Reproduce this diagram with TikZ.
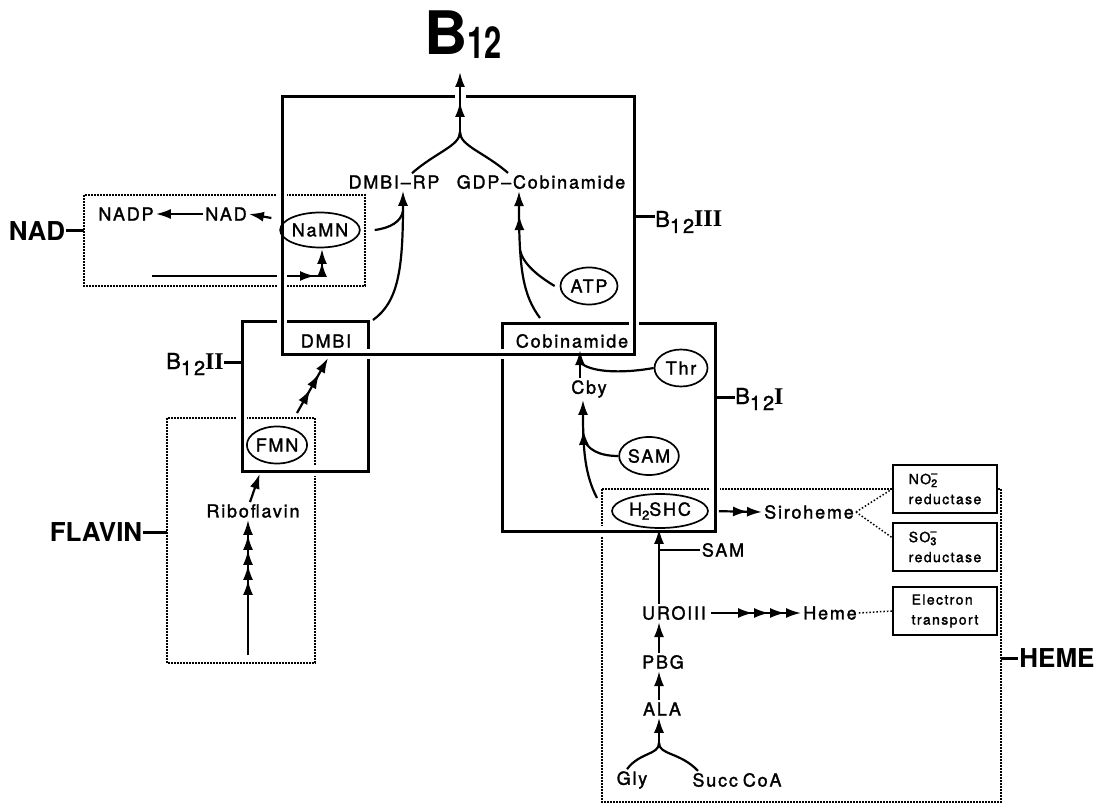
\documentclass[tikz,border=0pt]{standalone}
\usepackage{fontspec}
\usepackage{graphicx}
\setmainfont{TeX Gyre Heros}
\newfontfamily\labfont{TeX Gyre Heros}[LetterSpace=10, FakeBold=1.6]
\newfontfamily\numfont{Liberation Serif}
\usetikzlibrary{shapes.geometric,arrows.meta,decorations.markings}
\tikzset{
  % thick outline of a B12 part, with a white halo so that it cuts the lines it crosses
  part/.style={draw, line width=3pt, preaction={draw=white, line width=10pt}},
  % dotted outline of a side pathway
  sidebox/.style={line width=2.2pt, dash pattern=on 1.8pt off 1.2pt},
  tickline/.style={line width=3pt},
  flowline/.style={line width=2.2pt},
  arr/.style={flowline, -{Latex[length=15pt,width=10pt]}},
  % one more arrowhead on the path, #1 back from its end
  hd at/.style={postaction={decorate, decoration={markings,
      mark=at position #1 with {\arrow{Latex[length=15pt,width=10pt]}}}}},
  dots/.style={line width=1.5pt, dash pattern=on 1.5pt off 2pt},
  mol/.style={font=\labfont\fontsize{18}{20}\selectfont, inner sep=2pt},
  enz/.style={mol, ellipse, draw, line width=1.7pt, inner sep=0pt},
  route/.style={font=\bfseries\fontsize{26}{28}\selectfont, inner sep=1pt},
  bname/.style={font=\fontsize{22}{22}\selectfont, inner sep=0pt},
  title/.style={font=\bfseries\fontsize{60}{60}\selectfont, inner sep=0pt},
  role/.style={draw, line width=1.7pt, fill=white, font=\labfont\fontsize{14}{20}\selectfont,
    align=left, minimum width=104pt, minimum height=48pt},
}
\newcommand{\bpart}[1]{{\addfontfeatures{FakeBold=1.5}B}\raisebox{-6pt}{\labfont\fontsize{20}{20}\selectfont 12}{\numfont\bfseries\fontsize{24}{24}\selectfont #1}}
\newcommand{\ion}[1]{\rlap{\raisebox{7pt}{\fontsize{11}{11}\selectfont –}}\raisebox{-3pt}{\fontsize{11}{11}\selectfont #1}}

\begin{document}
\begin{tikzpicture}[x=1pt, y=-1pt]
  \useasboundingbox (0,0) rectangle (1096,805);

  % side pathways
  \draw[sidebox] (84,195) rectangle (365,286);
  \draw[sidebox] (167,418) rectangle (315,663);
  \draw[sidebox] (602,489) rectangle (1001,802);

  \coordinate (nain) at (152,276);
  \coordinate (nacorner) at (322,276);
  \coordinate (naend) at (322,249);
  \draw[arr, hd at=-13pt, hd at=-34pt] (nain) -- (nacorner) -- (naend);

  % the three parts
  \draw[part] (242,322) rectangle (368,471);
  \draw[part] (502,324) rectangle (715,531);
  \draw[part] (282,97) rectangle (634,354);

  \node[route] (nadlab) at (37,231) {NAD};
  \node[route] (flavlab) at (96,532) {FLAVIN};
  \node[route] (hemelab) at (1057,658) {HEME};
  \draw[tickline] (nadlab.east) -- (84,231);
  \draw[tickline] (flavlab.east) -- (167,532);
  \draw[tickline] (1001,658) -- (hemelab.west);

  \node[bname, anchor=base east] (btwo) at (224,369) {\bpart{II}};
  \node[bname, anchor=base west] (bthree) at (655,227) {\bpart{III}};
  \node[bname, anchor=base west] (bone) at (735,404) {\bpart{I}};
  \draw[tickline] (btwo.east |- 0,362) -- (242,362);
  \draw[tickline] (634,217) -- (bthree.west |- 0,217);
  \draw[tickline] (715,397) -- (bone.west |- 0,397);

  \node[title, anchor=base west] (b12) at (424,55) {B\raisebox{-4pt}{\scalebox{0.7}[1]{\fontsize{44}{44}\selectfont 12}}};

  \node[mol] (dmbirp) at (394,182) {DMBI–RP};
  \node[mol] (gdp) at (541,182) {GDP–Cobinamide};
  \node[mol] (nadp) at (126,214) {NADP};
  \node[mol] (nad) at (226,214) {NAD};
  \node[enz, minimum width=75pt, minimum height=35pt] (namn) at (320,230) {NaMN};
  \node[mol] (dmbi) at (326,341) {DMBI};
  \node[mol] (cobin) at (572,341) {Cobinamide};
  \node[enz, minimum width=57pt, minimum height=37pt] (atp) at (589,286) {ATP};
  \node[enz, minimum width=53pt, minimum height=37pt] (thr) at (681,368) {Thr};
  \node[mol] (cby) at (589,389) {Cby};
  \node[enz, minimum width=58pt, minimum height=38pt] (sam) at (649,456) {SAM};
  \node[enz, minimum width=60pt, minimum height=37pt] (fmn) at (277,445) {FMN};
  \node[mol] (ribo) at (253,511) {Riboflavin};
  \node[enz, minimum width=96pt, minimum height=34pt] (h2shc) at (660,511) {H\raisebox{-4pt}{\fontsize{13}{13}\selectfont 2}SHC};
  \node[mol] (siro) at (809,512) {Siroheme};
  \node[mol] (samb) at (723,550) {SAM};
  \node[mol] (uro) at (674,613) {UROIII};
  \node[mol] (heme) at (830,613) {Heme};
  \node[mol] (pbg) at (663,662) {PBG};
  \node[mol] (ala) at (662,709) {ALA};
  \node[mol] (gly) at (632,780) {Gly};
  \node[mol] (succ) at (737,780) {Succ\hspace{5pt}CoA};
  \node[role] (no2) at (945,489) {NO\ion{2}\\reductase};
  \node[role] (so3) at (945,547) {SO\ion{3}\\reductase};
  \node[role] (et) at (945,611) {Electron\\transport};

  % B12 from its two halves
  \coordinate (join) at (460,132);
  \coordinate (top) at (460,72);
  \draw[white, line width=11pt] (join) -- (top);
  \draw[arr, hd at=-30pt] (join) -- (top);
  \draw[flowline] ([xshift=18pt]dmbirp.north) .. controls (436,152) and (460,146) .. (join);
  \draw[flowline] ([xshift=-33pt]gdp.north) .. controls (484,152) and (460,146) .. (join);

  \coordinate (dmbiup) at (373,320);
  \draw[arr] (dmbiup) .. controls (398,302) and (403,270) .. ([xshift=9pt]dmbirp.south);
  \draw[flowline] ([xshift=14pt]namn.east) .. controls (390,228) and (401,222) .. (403,211);
  \coordinate (cobup) at (540,318);
  \draw[arr, hd at=-24pt] (cobup) .. controls (523,295) and (519,270) .. ([xshift=-22pt]gdp.south);
  \draw[flowline] ([xshift=-5pt]atp.west) .. controls (538,276) and (523,264) .. (520,250);

  \draw[arr] (nad.west) -- (nadp.east);
  \draw[arr] ([xshift=-8pt, yshift=12pt]namn.west) -- (nad.east);

  % flavin side
  \coordinate (fbase) at (248,655);
  \draw[arr, hd at=-15pt, hd at=-30pt, hd at=-45pt, hd at=-60pt] (fbase) -- ([xshift=-5pt]ribo.south);
  \draw[arr, shorten >=10pt] ([xshift=-3pt]ribo.north) -- ([xshift=-14pt]fmn.south);
  \coordinate (fmnup) at (297,413);
  \coordinate (dmbiin) at (328,358);
  \draw[arr, hd at=-18pt, hd at=-36pt] (fmnup) -- (dmbiin);

  % corrin side
  \draw[arr] ([xshift=-9pt]cby.north) -- ([xshift=8pt]cobin.south);
  \draw[flowline] (thr.west) .. controls (620,374) and (589,372) .. (580,362);
  \coordinate (h2up) at (597,498);
  \draw[arr, hd at=-30pt] (h2up) .. controls (585,475) and (583,450) .. ([xshift=-6pt]cby.south);
  \draw[flowline] (sam.west) .. controls (600,456) and (586,450) .. (583,436);

  % heme side
  \draw[arr] ([xshift=-15pt]uro.north) -- ([xshift=-1pt]h2shc.south);
  \coordinate (sambr) at (659,550);
  \draw[flowline] (sambr) -- (samb.west);
  \draw[arr, shorten <=10pt, hd at=-14pt] (h2shc.east) -- (siro.west);
  \draw[arr, shorten <=3pt, hd at=-16pt, hd at=-32pt, hd at=-48pt] (uro.east) -- (heme.west);
  \draw[arr] ([xshift=-4pt]pbg.north) -- ([xshift=-15pt]uro.south);
  \draw[arr] ([xshift=-3pt]ala.north) -- ([xshift=-4pt]pbg.south);
  \coordinate (glyjoin) at (659,743);
  \draw[flowline] ([xshift=-5pt]gly.north) .. controls (640,752) and (659,755) .. (glyjoin);
  \draw[flowline] ([xshift=-39pt]succ.north) .. controls (680,752) and (659,755) .. (glyjoin);
  \draw[arr] (glyjoin) -- ([xshift=-3pt]ala.south);

  \draw[dots] (siro.east) -- (no2.west);
  \draw[dots] (siro.east) -- (so3.170);
  \draw[dots] (heme.east) -- (et.west);
\end{tikzpicture}
\end{document}
